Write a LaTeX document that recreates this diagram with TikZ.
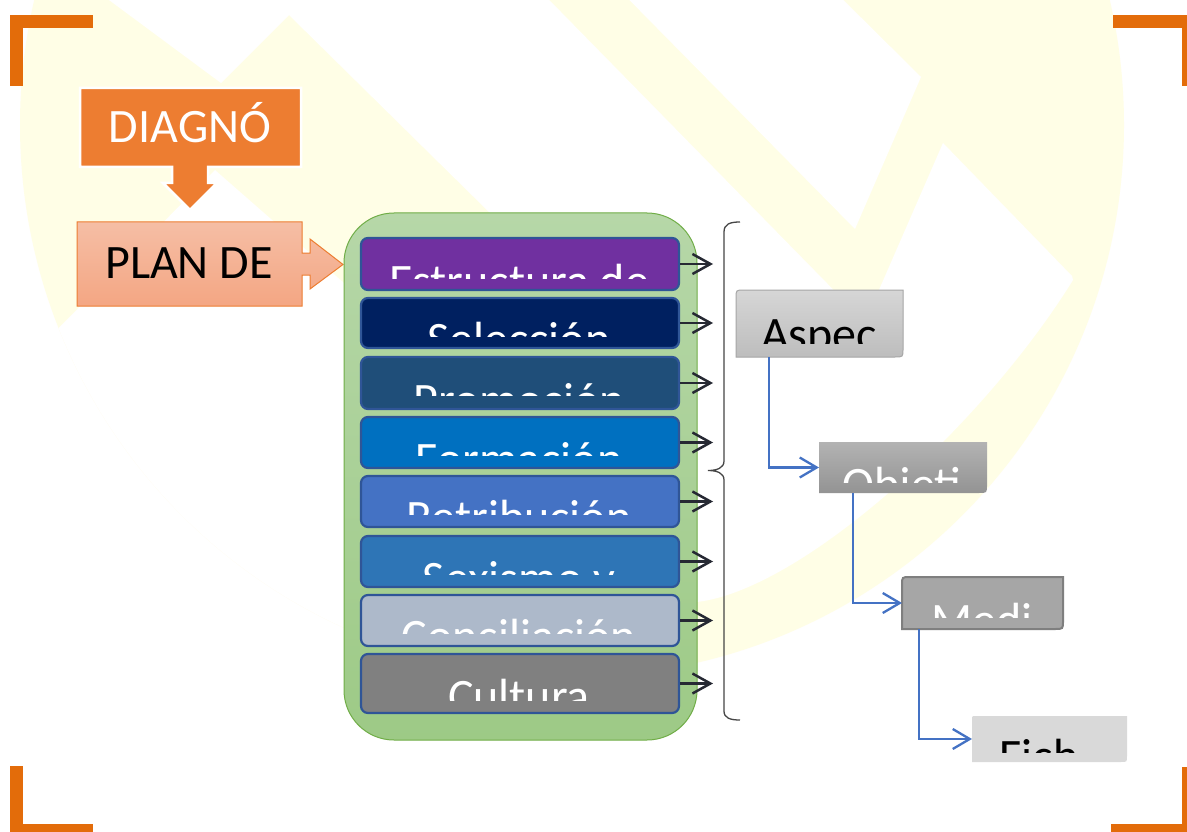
\documentclass[tikz,border=0pt]{standalone}
\usepackage{fontspec}
\setmainfont{Carlito}
\usetikzlibrary{arrows.meta}
\definecolor{wmyellow}{RGB}{255,254,230}
\definecolor{brorange}{RGB}{227,108,10}
\definecolor{diagorange}{RGB}{237,125,49}
\definecolor{plantop}{RGB}{245,190,165}
\definecolor{planbot}{RGB}{244,166,131}
\definecolor{greentop}{RGB}{182,215,168}
\definecolor{greenbot}{RGB}{157,202,134}
\definecolor{greenedge}{RGB}{112,173,71}
\definecolor{boxedge}{RGB}{47,85,151}
\definecolor{cOne}{RGB}{112,48,160}
\definecolor{cTwo}{RGB}{0,32,96}
\definecolor{cThree}{RGB}{31,78,121}
\definecolor{cFour}{RGB}{0,112,192}
\definecolor{cFive}{RGB}{68,114,196}
\definecolor{cSix}{RGB}{46,117,182}
\definecolor{cSeven}{RGB}{173,185,202}
\definecolor{cEight}{RGB}{128,128,128}
\definecolor{arrdark}{RGB}{38,41,51}
\definecolor{bracegray}{RGB}{70,70,70}
\definecolor{connblue}{RGB}{68,114,196}
\definecolor{aspTop}{RGB}{214,214,214}
\definecolor{aspBot}{RGB}{189,189,189}
\definecolor{aspEdge}{RGB}{166,166,166}
\definecolor{objTop}{RGB}{179,179,179}
\definecolor{objBot}{RGB}{147,147,147}
\definecolor{medFill}{RGB}{166,166,166}
\definecolor{medEdge}{RGB}{127,127,127}
\definecolor{ficFill}{RGB}{217,217,217}
\newcommand\myfont{\fontsize{48pt}{54pt}\selectfont}
\newcommand\cliptxt[6]{\begin{scope}\clip (#2-230,#3-40) rectangle (#2+230,#4);\node[anchor=base,inner sep=0pt,text=#5,font=\myfont] (#1) at (#2,#3+30) {#6};\end{scope}}
\begin{document}
\begin{tikzpicture}[x=1pt,y=-1pt,
  catbox/.style={draw=boxedge,line width=2.2pt,rounded corners=7pt,minimum width=318pt,inner sep=0pt},
  holder/.style={inner sep=0pt,outer sep=0pt,draw=none},
  catarrow/.style={draw=arrdark,line width=2.5pt,-{Straight Barb[length=18pt,width=20pt]}},
  flowarrow/.style={draw=connblue,line width=2.3pt,-{Straight Barb[length=17pt,width=20pt]}},
  bigtext/.style={font=\myfont,inner sep=0pt,anchor=base}]
\useasboundingbox (0,0) rectangle (1187,832);
\begin{scope}
\clip (0,0) rectangle (1187,832);
\fill[white] (0,0) rectangle (1187,832);
% watermark
\begin{scope}
\clip (572,125) circle [radius=552pt];
\fill[wmyellow] (0,-50) rectangle (1187,832);
\fill[white] (55,-40) -- (221,83) -- (289,15) -- (490,213) .. controls (600,330) and (640,600) .. (697,602) .. controls (800,590) and (980,430) .. (1073,280) -- (1072,276) -- (943,143) -- (865,322) -- (510,-40) -- cycle;
\fill[white] (590,-40) -- (855,229) -- (921,77) -- (803,-40) -- cycle;
\fill[white] (215,170) -- (-60,448) -- (-60,900) -- (720,900) -- (720,700) -- (650,600) -- (344,283) -- cycle;
\end{scope}
% corner brackets
\fill[brorange] (10,15) rectangle (93,28);
\fill[brorange] (10,15) rectangle (23,86);
\fill[brorange] (1113,15) rectangle (1195,28);
\fill[brorange] (1182,15) rectangle (1195,86);
\fill[brorange] (10,766) rectangle (23,840);
\fill[brorange] (10,824) rectangle (93,840);
\fill[brorange] (1111,824) rectangle (1195,840);
\fill[brorange] (1182,767) rectangle (1195,840);
\end{scope}
% DIAGNO callout
\filldraw[fill=diagorange,draw=white,line width=2.5pt,line join=miter] (80,88) -- (301,88) -- (301,167) -- (208,167) -- (208,183) -- (217,183) -- (190,210) -- (163,183) -- (172,183) -- (172,167) -- (80,167) -- cycle;
\node[bigtext,text=white] (diagtxt) at (190,143) {DIAGNÓ};
% PLAN DE callout
\shadedraw[top color=plantop,bottom color=planbot,draw=diagorange,line width=1pt] (77,222) -- (302,222) -- (302,253) -- (310,253) -- (310,239) -- (343,264.5) -- (310,289) -- (310,275) -- (302,275) -- (302,306) -- (77,306) -- cycle;
\node[bigtext,text=black] (plantxt) at (189,278) {PLAN DE};
% green container
\node[draw=greenedge,line width=1pt,top color=greentop,bottom color=greenbot,rounded corners=50pt,minimum width=353pt,minimum height=527pt,inner sep=0pt] (grp) at (520.5,476.5) {};
% category boxes
\node[catbox,fill=cOne,minimum height=52pt] (b1) at (520,264) {};
\node[catbox,fill=cTwo,minimum height=50pt] (b2) at (520,323) {};
\node[catbox,fill=cThree,minimum height=52pt] (b3) at (520,383) {};
\node[catbox,fill=cFour,minimum height=51pt] (b4) at (520,442.5) {};
\node[catbox,fill=cFive,minimum height=51pt] (b5) at (520,501.5) {};
\node[catbox,fill=cSix,minimum height=51pt] (b6) at (520,561.5) {};
\node[catbox,fill=cSeven,minimum height=51pt] (b7) at (520,620.5) {};
\node[catbox,fill=cEight,minimum height=59pt] (b8) at (520,683.5) {};
\cliptxt{t1}{519}{267}{278}{white}{Estructura de}
\cliptxt{t2}{519}{325}{336}{white}{Selección}
\cliptxt{t3}{519}{386}{395}{white}{Promoción}
\cliptxt{t4}{519}{445}{455}{white}{Formación}
\cliptxt{t5}{519}{503}{514}{white}{Retribución}
\cliptxt{t6}{519}{564}{574}{white}{Sexismo y}
\cliptxt{t7}{519}{622}{633}{white}{Conciliación}
\cliptxt{t8}{519}{682}{700}{white}{Cultura}
% arrows to brace
\coordinate (bx) at (713,0);
\foreach \b in {b1,b2,b3,b4,b5,b6,b7,b8}{
  \draw[catarrow] (\b.east) -- (\b.east -| bx);
}
% brace
\draw[bracegray,line width=1.3pt] (740,222) .. controls (730,222) and (724,224) .. (724,232) -- (724,461) .. controls (724,468) and (717,470.5) .. (708,470.5) .. controls (717,470.5) and (724,473) .. (724,480) -- (724,711) .. controls (724,718) and (730,720) .. (740,720);
% right cascade boxes
\node[holder,minimum width=167pt,minimum height=67pt] (aspec) at (819.5,323.5) {};
\shadedraw[top color=aspTop,bottom color=aspBot,draw=aspEdge,line width=1pt] (736,357) -- (736,298) .. controls (736,290) .. (744,290) -- (903,290) -- (903,349) .. controls (903,357) .. (895,357) -- cycle;
\node[holder,minimum width=168pt,minimum height=51pt] (objeti) at (903,467.5) {};
\shade[top color=objTop,bottom color=objBot] (819,442) -- (987,442) -- (987,485) .. controls (987,493) .. (979,493) -- (819,493) -- cycle;
\node[holder,minimum width=161pt,minimum height=52pt] (medi) at (982.5,603) {};
\filldraw[fill=medFill,draw=medEdge,line width=2pt] (902,629) -- (902,585) .. controls (902,577) .. (910,577) -- (1063,577) -- (1063,621) .. controls (1063,629) .. (1055,629) -- cycle;
\node[holder,minimum width=155pt,minimum height=46pt] (fich) at (1049.5,739) {};
\fill[ficFill] (972,762) -- (972,720) .. controls (972,716) .. (976,716) -- (1127,716) -- (1127,756) .. controls (1127,762) .. (1121,762) -- cycle;
\cliptxt{ta}{819}{320}{343}{black}{Aspec}
\cliptxt{tb}{902}{470}{482}{white}{Objeti}
\cliptxt{tc}{982}{606}{617}{white}{Medi}
\cliptxt{td}{1039}{742}{752}{black}{Fich}
% blue connectors
\draw[flowarrow] (aspec.south west) ++(33,0) |- (objeti.west);
\draw[flowarrow] (objeti.south west) ++(34,0) |- (medi.west);
\draw[flowarrow] (medi.south west) ++(17,0) |- (fich.west);
\end{tikzpicture}
\end{document}
